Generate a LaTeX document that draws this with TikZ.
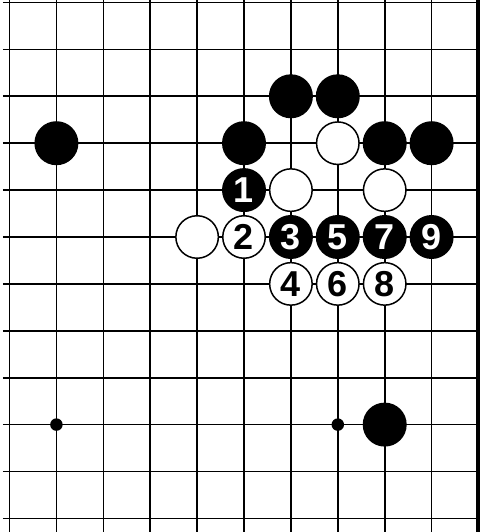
\documentclass[tikz,border=0pt]{standalone}
\usepackage{fontspec}
\setmainfont{Liberation Sans}
\tikzset{board line/.style={line width=1.6pt},
    board edge/.style={line width=4pt},
    move num/.style={font=\fontsize{36}{36}\selectfont\bfseries},
    black stone/.style={circle, fill=black, minimum size=44pt, inner sep=0pt,
        text=white, move num},
    white stone/.style={circle, draw=black, fill=white, line width=1.5pt,
        minimum size=42.5pt, inner sep=0pt, text=black, move num},
    hoshi/.style={circle, fill=black, minimum size=12.5pt, inner sep=0pt},
    }

\begin{document}
\begin{tikzpicture}[x=46.9pt, y=-46.9pt]
\useasboundingbox (-0.2026,-0.0533) rectangle (10.032,11.29);
% grid
\foreach \i in {0,...,9}
    \draw[board line] (\i,-0.06) -- (\i,11.3);
\foreach \j in {0,...,11}
    \draw[board line] (-0.139,\j) -- (9.99,\j);
\draw[board edge] (9.99,-0.06) -- (9.99,11.3);% right side
% star points
\node[hoshi] (hoshiL) at (1,9) {};
\node[hoshi] (hoshiR) at (7,9) {};
% stones already on the board
\foreach \c/\r [count=\k] in {1/3,6/2,7/2,5/3,8/3,9/3,8/9}
    \node[black stone] (b\k) at (\c,\r) {};
\foreach \c/\r [count=\k] in {7/3,6/4,8/4,4/5}
    \node[white stone] (w\k) at (\c,\r) {};
% the sequence
\foreach \n/\c/\r in {1/5/4,3/6/5,5/7/5,7/8/5,9/9/5}
    \node[black stone] (m\n) at (\c,\r) {\n};
\foreach \n/\c/\r in {2/5/5,4/6/6,6/7/6,8/8/6}
    \node[white stone] (m\n) at (\c,\r) {\n};
\end{tikzpicture}
\end{document}
